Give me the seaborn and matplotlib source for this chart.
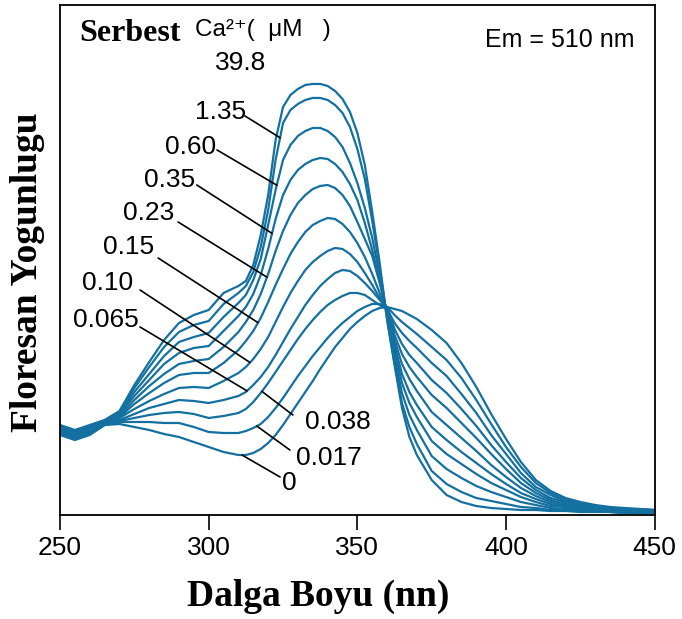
import numpy as np
import pandas as pd
import matplotlib
matplotlib.use("Agg")
import matplotlib.pyplot as plt
import seaborn as sns

# excitation wavelength (nm), emission fixed at 510 nm; finer steps around the peaks
wavelength = [250, 255, 260, 265, 270, 275, 280, 285, 290, 295, 300, 305, 310,
              312.5, 315, 317.5, 320, 322.5, 325, 327.5, 330, 332.5, 335, 337.5, 340,
              342.5, 345, 347.5, 350, 352.5, 355, 357.5, 360, 362.5, 365, 367.5, 370,
              375, 380, 385, 390, 395, 400, 405, 410, 415, 420, 425, 430, 435, 440, 445, 450]

# free Ca2+ (uM) for each curve, low to high
ca_labels = ["0", "0.017", "0.038", "0.065", "0.10", "0.15", "0.23", "0.35", "0.60", "1.35", "39.8"]

# fluorescence intensity (arbitrary units)
int_0 = [80, 75, 80, 90, 91, 88, 85, 81, 78, 73, 68, 63, 60,
         60, 62, 66, 72, 80, 90, 101, 112, 123, 134, 146, 157, 168, 177, 186, 193, 199, 204, 207, 208, 206, 204, 200, 196,
         185, 172, 152, 128, 101, 76, 53, 35, 24, 17, 13, 10, 8, 7, 6, 5]
int_0017 = [81, 76, 81, 90, 93, 93, 93, 92, 92, 88, 83, 82, 82,
            84, 87, 91, 98, 107, 117, 128, 139, 149, 159, 168, 177, 185, 192, 198, 204, 208, 211, 211, 208, 200, 193, 187, 181,
            168, 155, 137, 115, 91, 68, 48, 32, 22, 16, 12, 9, 7, 6, 6, 5]
int_0038 = [82, 77, 82, 91, 94, 97, 100, 102, 103, 101, 97, 99, 102,
            106, 113, 122, 132, 143, 154, 165, 176, 186, 195, 203, 210, 215, 219, 222, 222, 220, 215, 210, 206, 192, 182, 174, 167,
            152, 139, 121, 102, 80, 61, 42, 28, 20, 14, 11, 8, 7, 6, 5, 4]
int_0065 = [83, 78, 83, 91, 95, 101, 107, 111, 115, 114, 112, 115, 119,
            123, 130, 138, 148, 160, 173, 186, 198, 210, 220, 229, 236, 242, 245, 244, 239, 232, 224, 215, 207, 186, 171, 160, 152,
            135, 122, 106, 89, 70, 53, 37, 25, 17, 13, 10, 8, 6, 5, 5, 4]
int_010 = [84, 79, 84, 92, 97, 106, 114, 121, 127, 128, 127, 134, 142,
           148, 156, 166, 178, 193, 208, 222, 234, 245, 253, 259, 264, 267, 266, 261, 253, 242, 230, 217, 205, 180, 161, 148, 138,
           120, 107, 92, 77, 61, 46, 32, 22, 15, 11, 9, 7, 6, 5, 4, 4]
int_015 = [85, 80, 85, 92, 98, 111, 122, 132, 140, 142, 142, 152, 165,
           174, 184, 197, 213, 230, 246, 261, 273, 283, 290, 294, 297, 296, 291, 283, 272, 258, 241, 222, 204, 175, 151, 136, 124,
           103, 90, 77, 64, 50, 38, 27, 19, 13, 10, 8, 6, 5, 4, 4, 3]
int_023 = [86, 81, 86, 93, 99, 115, 129, 141, 151, 154, 156, 168, 183,
           193, 205, 221, 241, 264, 284, 300, 312, 320, 326, 329, 330, 327, 320, 309, 293, 276, 259, 232, 203, 170, 141, 123, 110,
           88, 75, 63, 52, 41, 31, 22, 16, 11, 9, 7, 6, 5, 4, 3, 3]
int_035 = [87, 82, 87, 93, 101, 119, 135, 151, 162, 167, 169, 184, 199,
           208, 221, 240, 266, 296, 320, 335, 345, 351, 355, 357, 356, 351, 343, 331, 315, 292, 265, 234, 201, 165, 132, 112, 98,
           74, 61, 51, 41, 32, 25, 18, 13, 9, 8, 6, 5, 4, 3, 3, 3]
int_060 = [88, 83, 88, 94, 102, 123, 141, 159, 173, 178, 182, 198, 212,
           220, 235, 256, 290, 325, 355, 370, 379, 384, 387, 387, 384, 378, 368, 352, 332, 307, 277, 240, 199, 158, 122, 100, 85,
           59, 46, 37, 29, 23, 18, 13, 10, 7, 6, 5, 4, 4, 3, 3, 3]
int_135 = [89, 84, 89, 94, 103, 127, 148, 168, 183, 190, 194, 211, 222,
           229, 243, 268, 305, 355, 392, 405, 411, 415, 417, 417, 415, 410, 402, 388, 366, 336, 294, 247, 196, 152, 112, 88, 71,
           44, 31, 23, 17, 14, 11, 8, 7, 5, 5, 4, 4, 3, 2, 2, 2]
int_398 = [90, 85, 90, 95, 104, 130, 153, 175, 192, 200, 205, 222, 229,
           234, 250, 280, 320, 375, 408, 420, 426, 430, 431, 431, 429, 424, 416, 403, 382, 350, 303, 252, 195, 150, 107, 78, 60,
           35, 20, 13, 9, 7, 6, 5, 5, 4, 4, 3, 3, 3, 2, 2, 2]

curves = [int_0, int_0017, int_0038, int_0065, int_010, int_015,
          int_023, int_035, int_060, int_135, int_398]

df = pd.concat([pd.DataFrame({"wl": wavelength, "intensity": vals, "ca": lab})
                for lab, vals in zip(ca_labels, curves)], ignore_index=True)

# label text anchor, leader start and the wavelength where the leader meets the curve
left_labels = {
    "1.35": ((312.5, 403), (312.2, 399), 324.0),
    "0.60": ((302.5, 368), (302.8, 365), 322.9),
    "0.35": ((295.5, 335), (296.0, 330), 321.3),
    "0.23": ((288.5, 302), (289.7, 293), 319.6),
    "0.15": ((281.8, 268), (283.0, 257), 316.6),
    "0.10": ((274.5, 232), (276.9, 225), 313.9),
    "0.065": ((276.5, 195), (276.9, 188), 312.9),
}
right_labels = {
    "0.038": ((332.5, 93), (328.3, 100), 317.9),
    "0.017": ((329.5, 57), (327.3, 65), 316.2),
    "0": ((324.5, 32), (324.0, 38), 311.2),
}

blue = "#1470a0"

sns.set_style("white")
plt.rcParams["font.family"] = ["Liberation Sans", "DejaVu Sans"]
plt.rcParams["text.color"] = "black"
plt.rcParams["axes.labelcolor"] = "black"
plt.rcParams["xtick.color"] = "black"

fig, ax = plt.subplots(figsize=(6.82, 6.19), dpi=100)
fig.subplots_adjust(left=0.088, right=0.960, bottom=0.168, top=0.992)

sns.lineplot(data=df, x="wl", y="intensity", hue="ca", hue_order=ca_labels,
             palette=[blue] * len(ca_labels), estimator=None, sort=False,
             legend=False, linewidth=1.6, ax=ax)

ax.set_xlim(250, 450)
ax.set_ylim(0, 510)
ax.set_xticks([250, 300, 350, 400, 450])
ax.set_yticks([])
ax.tick_params(axis="x", direction="out", length=11, width=1.2, pad=4,
               labelsize=19, colors="black", bottom=True)
for sp in ax.spines.values():
    sp.set_visible(True)
    sp.set_color("black")
    sp.set_linewidth(1.3)

# curve labels with leader lines
for lab, (txt, start, tip_wl) in left_labels.items():
    vals = curves[ca_labels.index(lab)]
    tip = (tip_wl, np.interp(tip_wl, wavelength, vals))
    ax.plot([start[0], tip[0]], [start[1], tip[1]], color="black", lw=1.2)
    ax.text(txt[0], txt[1], lab, ha="right", va="center", fontsize=19)
for lab, (txt, start, tip_wl) in right_labels.items():
    vals = curves[ca_labels.index(lab)]
    tip = (tip_wl, np.interp(tip_wl, wavelength, vals))
    ax.plot([start[0], tip[0]], [start[1], tip[1]], color="black", lw=1.2)
    ax.text(txt[0], txt[1], lab, ha="left", va="center", fontsize=19)

ax.text(0.303, 0.886, "39.8", transform=ax.transAxes, ha="center", va="center", fontsize=19)
ax.text(0.032, 0.944, "Serbest", transform=ax.transAxes, ha="left", va="center",
        fontsize=23, fontweight="bold", family=["Liberation Serif", "DejaVu Serif"])
ax.text(0.227, 0.950, "Ca²⁺(  μM   )", transform=ax.transAxes, ha="left", va="center",
        fontsize=17.5, family=["Liberation Sans", "DejaVu Sans"])
ax.text(0.966, 0.931, "Em = 510 nm", transform=ax.transAxes, ha="right", va="center", fontsize=18)

ax.set_xlabel("Dalga Boyu (nn)", fontsize=27, fontweight="bold",
              family=["Liberation Serif", "DejaVu Serif"])
ax.xaxis.set_label_coords(0.434, -0.125)
ax.set_ylabel("Floresan Yogunlugu", fontsize=27, fontweight="bold",
              family=["Liberation Serif", "DejaVu Serif"])
ax.yaxis.set_label_coords(-0.025, 0.476)

fig.savefig("out.png", dpi=100)
